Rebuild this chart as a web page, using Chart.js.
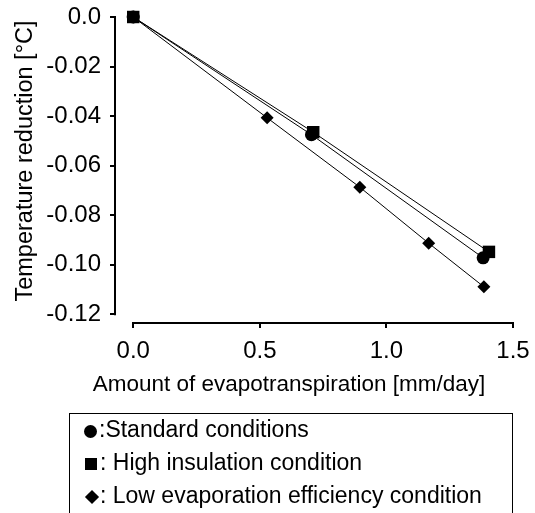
<!DOCTYPE html>
<html>
<head>
<meta charset="utf-8">
<script src="https://cdn.jsdelivr.net/npm/chart.js@4/dist/chart.umd.min.js"></script>
<style>
  html, body { margin: 0; padding: 0; background: #fff; }
  #wrap { position: relative; width: 535px; height: 513px; overflow: hidden; }
  #chart { position: absolute; left: 0; top: 0; }
  #legend {
    position: absolute; left: 69px; top: 413px; width: 442px; height: 140px;
    border: 1px solid #000; border-bottom: none;
    font-family: "Liberation Sans", Arial, sans-serif; font-size: 23px; color: #000;
  }
  #legend .txt { position: absolute; white-space: nowrap; line-height: 23px; }
  #legend .sym { position: absolute; background: #000; }
</style>
</head>
<body>
<div id="wrap">
  <canvas id="chart" width="535" height="513"></canvas>
  <div id="legend">
    <span class="sym" style="left:14px; top:11px; width:13px; height:13px; border-radius:50%;"></span>
    <span class="txt" style="left:29px; top:4px;">:Standard conditions</span>
    <span class="sym" style="left:15px; top:44px; width:12px; height:12px;"></span>
    <span class="txt" style="left:30px; top:37px;">: High insulation condition</span>
    <span class="sym" style="left:17px; top:78px; width:10px; height:10px; transform:rotate(45deg);"></span>
    <span class="txt" style="left:30px; top:70px;">: Low evaporation efficiency condition</span>
  </div>
</div>
<script>
// values
const standardX = [0, 0.704, 1.382];
const standardY = [0, -0.0475, -0.0972];
const highInsX = [0, 0.711, 1.405];
const highInsY = [0, -0.0465, -0.0948];
const lowEvapX = [0, 0.529, 0.895, 1.167, 1.385];
const lowEvapY = [0, -0.0407, -0.0687, -0.0913, -0.1089];

const seriesNames = ['Standard conditions', 'High insulation condition', 'Low evaporation efficiency condition'];
const xTicks = [0, 0.5, 1.0, 1.5];
const yTicks = [0, -0.02, -0.04, -0.06, -0.08, -0.10, -0.12];
const xTitle = 'Amount of evapotranspiration [mm/day]';
const yTitle = 'Temperature reduction [°C]';

function toPoints(xs, ys) {
    return xs.map((x, i) => ({ x: x, y: ys[i] }));
}

Chart.defaults.font.family = "'Liberation Sans', Arial, sans-serif";
Chart.defaults.color = '#000';

// axis lines only span the tick range (detached axes), titles drawn by hand
const axisPlugin = {
    id: 'axisPlugin',
    beforeDatasetsDraw(chart) {
        const ctx = chart.ctx;
        const xs = chart.scales.x;
        const ys = chart.scales.y;
        const area = chart.chartArea;
        ctx.save();
        ctx.strokeStyle = '#000';
        ctx.lineWidth = 2;
        ctx.beginPath();
        ctx.moveTo(xs.getPixelForValue(xTicks[0]) - 1, area.bottom + 1);
        ctx.lineTo(xs.getPixelForValue(xTicks[xTicks.length - 1]) + 1, area.bottom + 1);
        ctx.moveTo(area.left - 1, ys.getPixelForValue(yTicks[0]) - 1);
        ctx.lineTo(area.left - 1, ys.getPixelForValue(yTicks[yTicks.length - 1]) + 1);
        ctx.stroke();
        ctx.restore();
    },
    afterDraw(chart) {
        const ctx = chart.ctx;
        ctx.save();
        ctx.fillStyle = '#000';
        ctx.textAlign = 'center';
        ctx.textBaseline = 'alphabetic';
        ctx.font = "22.5px 'Liberation Sans', Arial, sans-serif";
        ctx.fillText(xTitle, 289, 391);
        ctx.font = "23.5px 'Liberation Sans', Arial, sans-serif";
        ctx.translate(32, 161);
        ctx.rotate(-Math.PI / 2);
        ctx.fillText(yTitle, 0, 0);
        ctx.restore();
    }
};

const ctx = document.getElementById('chart').getContext('2d');
new Chart(ctx, {
    type: 'scatter',
    data: {
        datasets: [
            {
                label: seriesNames[0],
                data: toPoints(standardX, standardY),
                pointStyle: 'circle',
                pointRadius: 6.5
            },
            {
                label: seriesNames[1],
                data: toPoints(highInsX, highInsY),
                pointStyle: 'rect',
                pointRadius: 8.8
            },
            {
                label: seriesNames[2],
                data: toPoints(lowEvapX, lowEvapY),
                pointStyle: 'rectRot',
                pointRadius: 6.5
            }
        ].map(ds => Object.assign(ds, {
            showLine: true,
            borderColor: '#000',
            borderWidth: 1,
            backgroundColor: '#000',
            pointBackgroundColor: '#000',
            pointBorderColor: '#000',
            pointBorderWidth: 0,
            clip: false
        }))
    },
    options: {
        responsive: false,
        animation: false,
        devicePixelRatio: 1,
        layout: { padding: { top: 17, right: 22, bottom: 116, left: 0 } },
        plugins: {
            legend: { display: false },
            tooltip: { enabled: false }
        },
        scales: {
            x: {
                type: 'linear',
                min: -0.068,
                max: 1.5,
                afterBuildTicks: s => { s.ticks = xTicks.map(v => ({ value: v })); },
                afterFit: s => { s.height = 75; s.paddingLeft = 0; s.paddingRight = 0; },
                border: { display: false },
                grid: { drawOnChartArea: false, drawTicks: true, tickLength: 6, color: '#000', lineWidth: 2 },
                ticks: {
                    autoSkip: false, maxRotation: 0, padding: 9,
                    font: { size: 24 }, color: '#000',
                    callback: v => v.toFixed(1)
                }
            },
            y: {
                type: 'linear',
                min: -0.1231,
                max: 0,
                afterBuildTicks: s => { s.ticks = yTicks.map(v => ({ value: v })); },
                afterFit: s => { s.width = 116; s.paddingTop = 0; s.paddingBottom = 0; },
                border: { display: false },
                grid: { drawOnChartArea: false, drawTicks: true, tickLength: 6, color: '#000', lineWidth: 2 },
                ticks: {
                    autoSkip: false, padding: 9,
                    font: { size: 24 }, color: '#000',
                    callback: v => (v === 0 ? '0.0' : v.toFixed(2))
                }
            }
        }
    },
    plugins: [axisPlugin]
});
</script>
</body>
</html>
